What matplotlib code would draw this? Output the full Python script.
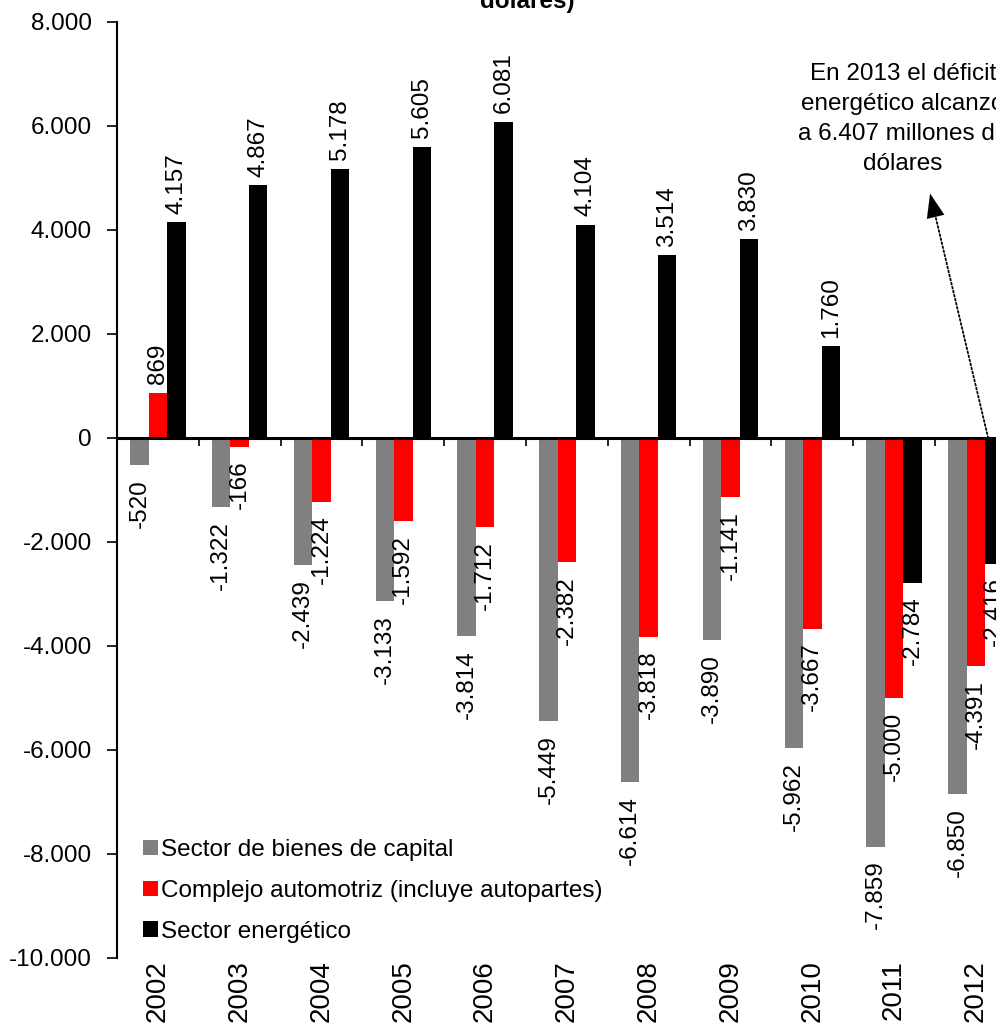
import matplotlib
matplotlib.use("Agg")
import matplotlib.pyplot as plt
from matplotlib.patches import Patch
from matplotlib.ticker import FuncFormatter
import numpy as np

plt.rcParams['font.family'] = ['Liberation Sans', 'DejaVu Sans']

years = ["2002", "2003", "2004", "2005", "2006", "2007", "2008", "2009", "2010", "2011", "2012"]
bienes_capital = [-520, -1322, -2439, -3133, -3814, -5449, -6614, -3890, -5962, -7859, -6850]
automotriz = [869, -166, -1224, -1592, -1712, -2382, -3818, -1141, -3667, -5000, -4391]
energetico = [4157, 4867, 5178, 5605, 6081, 4104, 3514, 3830, 1760, -2784, -2416]
series_names = ["Sector de bienes de capital",
                "Complejo automotriz (incluye autopartes)",
                "Sector energético"]
colors = ["#808080", "#FF0000", "#000000"]
yticks = list(range(-10000, 8001, 2000))
nota = "En 2013 el déficit\nenergético alcanzó\na 6.407 millones de\ndólares"


def fmt_miles(v):
    return f"{int(v):,}".replace(",", ".")


W, H = 996, 1036
fig = plt.figure(figsize=(W / 100, H / 100), dpi=100)

# axes geometry in pixels: y axis at x=117, one category = 81.8 px
left_px, cat_px = 117, 81.8
top_px, bottom_px = 22, 958
ax = fig.add_axes([left_px / W, (H - bottom_px) / H,
                   12 * cat_px / W, (bottom_px - top_px) / H])

x = np.arange(len(years))
bw = 0.225
fs = 17.5
for i, (vals, col) in enumerate(zip([bienes_capital, automotriz, energetico], colors)):
    xs = x + (i - 1) * bw
    ax.bar(xs, vals, width=bw, color=col, edgecolor='none', zorder=2)
    for xi, v in zip(xs, vals):
        off = 6 if v > 0 else -10
        ax.annotate(fmt_miles(v), (xi, v), xytext=(0, off), textcoords='offset points',
                    rotation=90, ha='center', va='bottom' if v > 0 else 'top',
                    fontsize=fs, color='black')

ax.set_xlim(-0.5, 11.5)
ax.set_ylim(-10000, 8000)

for s in ['top', 'right']:
    ax.spines[s].set_visible(False)
ax.spines['bottom'].set_position(('data', 0))
ax.spines['bottom'].set_linewidth(2.2)
ax.spines['left'].set_linewidth(1.5)
ax.spines['bottom'].set_zorder(3)

ax.set_xticks(np.arange(-0.5, 11.6, 1.0))
ax.set_xticklabels([])
ax.tick_params(axis='x', direction='out', length=6, width=1.2)
ax.set_yticks(yticks)
ax.yaxis.set_major_formatter(FuncFormatter(lambda v, p: fmt_miles(v)))
ax.tick_params(axis='y', direction='out', length=7, width=1.2, labelsize=fs, pad=11)

# year labels below the plotting area
for xi, yr in zip(x, years):
    ax.text(xi, -10040, yr, rotation=90, ha='center', va='top', fontsize=fs + 2.5)

handles = [Patch(facecolor=c, edgecolor='none') for c in colors]
fig.legend(handles, series_names, loc='upper left',
           bbox_to_anchor=(143 / W, (H - 839) / H), frameon=False,
           fontsize=fs, handlelength=0.62, handleheight=0.62,
           handletextpad=0.12, labelspacing=0.78, borderpad=0, borderaxespad=0)

# title (only its last line falls inside the canvas)
fig.text(527 / W, (H - 8) / H, "dólares)", ha='center', va='baseline',
         fontsize=fs, fontweight='bold')

# dotted pointer from the 2013 position up to the note, with a solid head
tip = (9.44, 4700)
base = (10.15, 0)
ax.annotate("", xy=tip, xytext=base, textcoords='data',
            arrowprops=dict(arrowstyle='-', linestyle=(0, (1, 1.3)), color='black',
                            lw=1.3, shrinkA=0, shrinkB=8))
near = (tip[0] + 0.08 * (base[0] - tip[0]), tip[1] + 0.08 * (base[1] - tip[1]))
ax.annotate("", xy=tip, xytext=near, textcoords='data',
            arrowprops=dict(arrowstyle='-|>,head_length=0.85,head_width=0.32',
                            color='black', lw=0.1, shrinkA=0, shrinkB=0,
                            mutation_scale=20))
fig.text(903 / W, (H - 63) / H, nota, ha='center', va='top', fontsize=fs,
         linespacing=1.48)

fig.savefig("out.png", dpi=100)
